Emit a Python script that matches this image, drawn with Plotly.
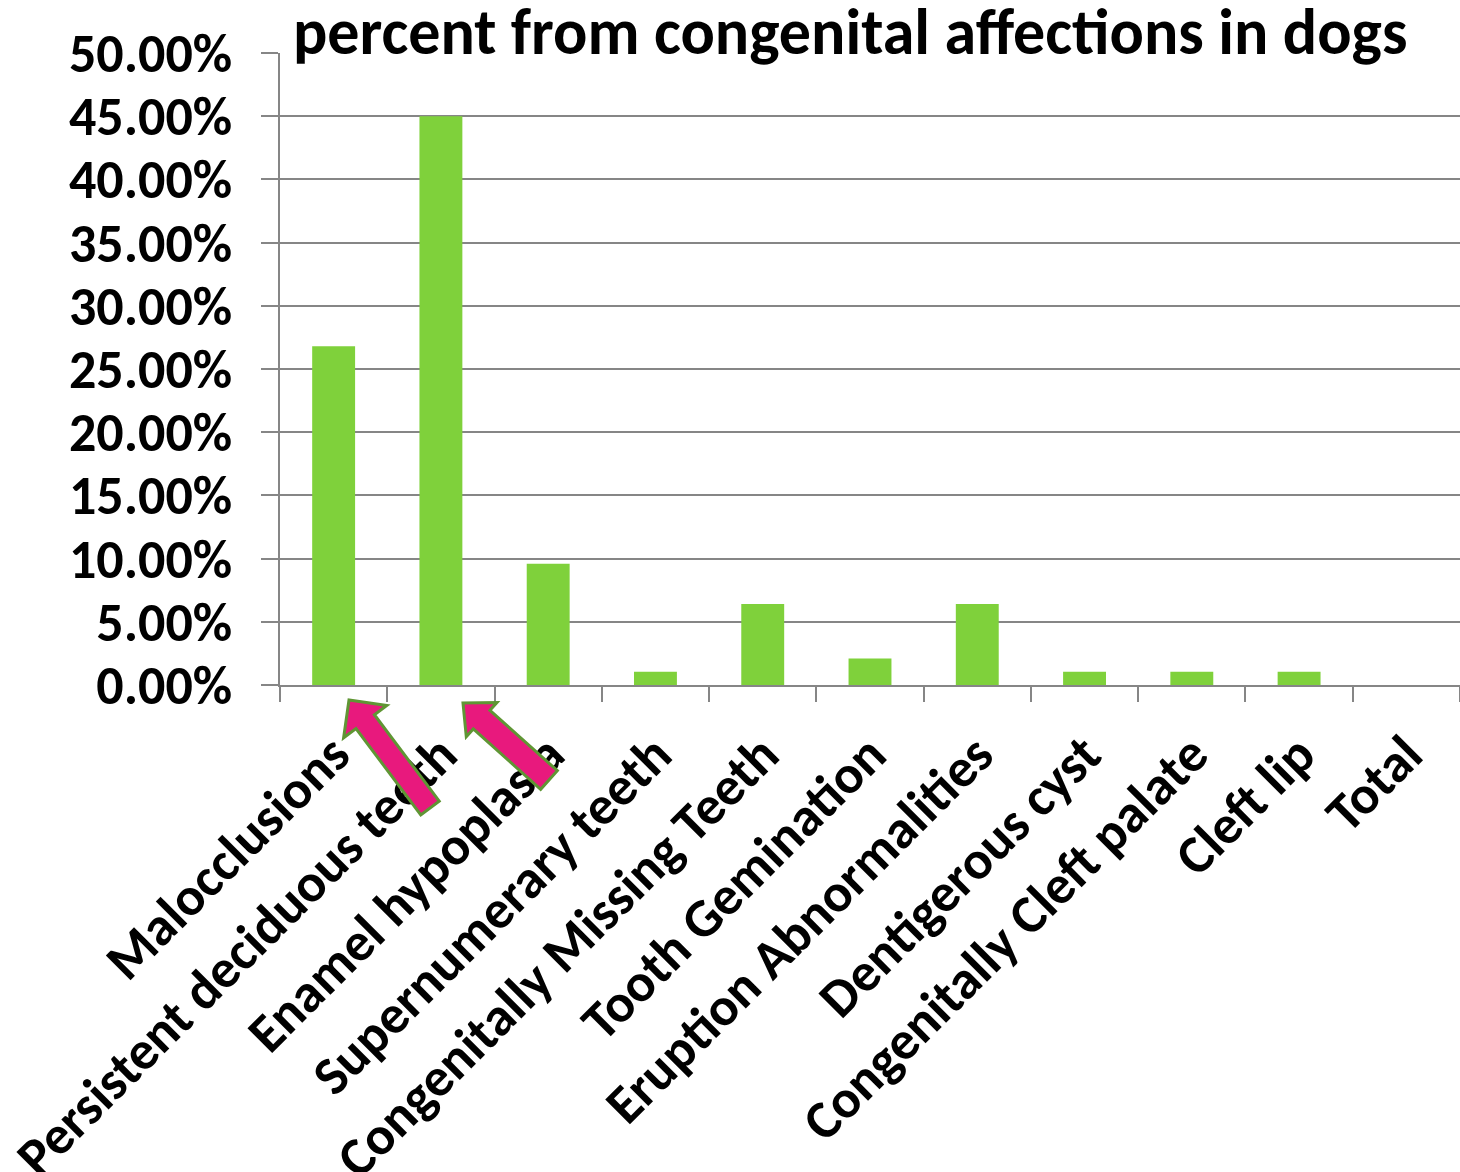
import plotly.graph_objects as go

# Congenital dental affections in dogs (share of cases)
categories = [
    "Malocclusions",
    "Persistent deciduous teeth",
    "Enamel hypoplasia",
    "Supernumerary teeth",
    "Congenitally Missing Teeth",
    "Tooth Gemination",
    "Eruption Abnormalities",
    "Dentigerous cyst",
    "Congenitally Cleft palate",
    "Cleft lip",
    "Total",
]
percent_values = [0.268, 0.450, 0.096, 0.0105, 0.064, 0.021, 0.064, 0.0105, 0.0105, 0.0105, 0.0]

y_tick_values = [0.0, 0.05, 0.10, 0.15, 0.20, 0.25, 0.30, 0.35, 0.40, 0.45, 0.50]
y_tick_labels = ["0.00%", "5.00%", "10.00%", "15.00%", "20.00%", "25.00%",
                 "30.00%", "35.00%", "40.00%", "45.00%", "50.00%"]

title_text = "percent from congenital affections in dogs"

FONT = "Carlito, 'Open Sans', sans-serif"
W, H = 1460, 1172
ML, MR, MT, MB = 280, 0, 53, 487
PW, PH = W - ML - MR, H - MT - MB


def to_paper(px, py):
    return (px - ML) / PW, (H - MB - py) / PH


def arrow_path(tip, tail, head_len, head_half, shaft_half):
    """Block arrow outline from tail centre to tip, in pixel space -> paper."""
    tx, ty = tip
    bx, by = tail
    dx, dy = tx - bx, ty - by
    L = (dx * dx + dy * dy) ** 0.5
    ux, uy = dx / L, dy / L
    nx, ny = -uy, ux
    hx, hy = tx - ux * head_len, ty - uy * head_len
    pts = [
        (bx + nx * shaft_half, by + ny * shaft_half),
        (hx + nx * shaft_half, hy + ny * shaft_half),
        (hx + nx * head_half, hy + ny * head_half),
        (tx, ty),
        (hx - nx * head_half, hy - ny * head_half),
        (hx - nx * shaft_half, hy - ny * shaft_half),
        (bx - nx * shaft_half, by - ny * shaft_half),
    ]
    pp = [to_paper(x, y) for x, y in pts]
    return "M " + " L ".join(f"{x:.5f},{y:.5f}" for x, y in pp) + " Z"


fig = go.Figure(
    go.Bar(
        x=categories,
        y=percent_values,
        marker=dict(color="#7FD13B", line=dict(width=0)),
        width=0.4,
    )
)

arrows = [
    arrow_path((349, 700), (430, 808), 27, 27, 11.5),
    arrow_path((463, 703), (549, 780), 25, 23, 12.5),
]
shapes = [
    dict(type="path", path=p, xref="paper", yref="paper",
         fillcolor="#E8197D", line=dict(color="#5F9634", width=3), layer="above")
    for p in arrows
]

fig.update_layout(
    width=W,
    height=H,
    margin=dict(l=ML, r=MR, t=MT, b=MB, pad=0),
    paper_bgcolor="white",
    plot_bgcolor="white",
    showlegend=False,
    font=dict(family=FONT, color="black", size=54),
    bargap=0.6,
    shapes=shapes,
    annotations=[
        dict(text=f"<b>{title_text}</b>", xref="paper", yref="paper",
             x=(850 - ML) / PW, y=(H - MB - 32) / PH, xanchor="center", yanchor="middle",
             showarrow=False, font=dict(family=FONT, size=64, color="black"))
    ],
)

fig.update_xaxes(
    type="category",
    tickangle=-45,
    tickson="boundaries",
    ticks="outside",
    ticklen=15,
    tickwidth=2,
    tickcolor="#868686",
    ticklabelstandoff=14,
    showline=True,
    linecolor="#868686",
    linewidth=2,
    showgrid=False,
    zeroline=False,
    tickfont=dict(family=FONT, size=54, color="black", weight="bold"),
    automargin=False,
)

fig.update_yaxes(
    range=[0, 0.5],
    tickvals=y_tick_values,
    ticktext=y_tick_labels,
    ticks="outside",
    ticklen=17,
    tickwidth=2,
    tickcolor="#868686",
    ticklabelstandoff=18,
    showline=True,
    linecolor="#868686",
    linewidth=2,
    showgrid=True,
    gridcolor="#868686",
    gridwidth=2,
    zeroline=False,
    tickfont=dict(family=FONT, size=54, color="black", weight="bold"),
    automargin=False,
)

fig.write_html("out.html")
